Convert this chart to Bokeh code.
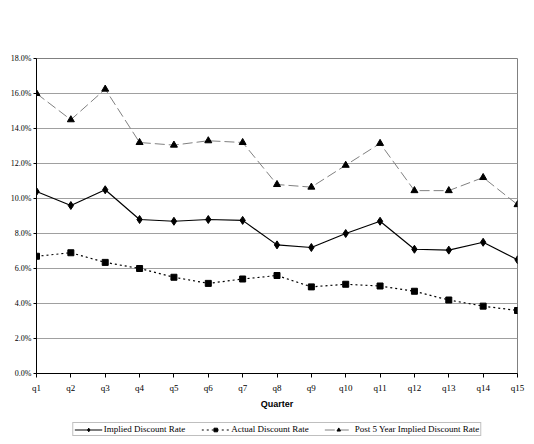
from bokeh.plotting import figure
from bokeh.layouts import column
from bokeh.models import (Range1d, FixedTicker, NumeralTickFormatter, Legend, LegendItem,
                          ColumnDataSource)
from bokeh.embed import file_html
from bokeh.resources import INLINE

quarters = ["q1", "q2", "q3", "q4", "q5", "q6", "q7", "q8", "q9", "q10", "q11", "q12", "q13", "q14", "q15"]
implied = [10.4, 9.6, 10.5, 8.8, 8.7, 8.8, 8.75, 7.35, 7.2, 8.0, 8.7, 7.1, 7.05, 7.5, 6.5]
actual = [6.7, 6.9, 6.35, 6.0, 5.5, 5.15, 5.4, 5.6, 4.95, 5.1, 5.0, 4.7, 4.2, 3.85, 3.6]
post5 = [16.0, 14.5, 16.25, 13.2, 13.05, 13.3, 13.2, 10.8, 10.65, 11.9, 13.15, 10.45, 10.45, 11.2, 9.65]
y_ticks = [0.0, 0.02, 0.04, 0.06, 0.08, 0.10, 0.12, 0.14, 0.16, 0.18]
series_names = ["Implied Discount Rate", "Actual Discount Rate", "Post 5 Year Implied Discount Rate"]

xs = list(range(1, len(quarters) + 1))
src = ColumnDataSource(dict(
    x=xs,
    implied=[v / 100 for v in implied],
    actual=[v / 100 for v in actual],
    post5=[v / 100 for v in post5],
))

SERIF = "Liberation Serif"

p = figure(frame_width=481, frame_height=315, output_backend="svg", toolbar_location=None,
           x_range=Range1d(1, 15), y_range=Range1d(0, 0.18),
           min_border_left=36, min_border_right=17, min_border_top=58, min_border_bottom=0)

p.background_fill_color = "white"
p.border_fill_color = "white"
p.outline_line_color = "#808080"
p.outline_line_width = 1

# axes
p.xaxis.ticker = FixedTicker(ticks=xs)
p.xaxis.major_label_overrides = {i + 1: q for i, q in enumerate(quarters)}
p.xaxis.axis_label = "Quarter"
p.xaxis.axis_label_text_font = "Liberation Sans"
p.xaxis.axis_label_text_font_style = "bold"
p.xaxis.axis_label_text_font_size = "9px"
p.xaxis.axis_label_text_color = "black"
p.xaxis.axis_label_standoff = 3
p.xaxis.major_label_text_font = SERIF
p.xaxis.major_label_text_font_size = "9px"
p.xaxis.major_label_text_color = "black"
p.xaxis.major_label_standoff = 5
p.xaxis.major_tick_in = 0
p.xaxis.major_tick_out = 4
p.xaxis.minor_tick_line_color = None
p.xaxis.axis_line_color = "black"

p.yaxis.ticker = FixedTicker(ticks=y_ticks)
p.yaxis.formatter = NumeralTickFormatter(format="0.0%")
p.yaxis.major_label_text_font = SERIF
p.yaxis.major_label_text_font_size = "8px"
p.yaxis.major_label_text_color = "black"
p.yaxis.major_label_standoff = 2
p.yaxis.major_tick_in = 0
p.yaxis.major_tick_out = 3
p.yaxis.minor_tick_line_color = None
p.yaxis.axis_line_color = "black"

p.xgrid.grid_line_color = None
p.ygrid.grid_line_color = "#a0a0a0"
p.ygrid.grid_line_width = 1

# series styles
styles = [
    dict(line_color="black", line_width=1.2, line_dash="solid", marker="diamond", size=8),
    dict(line_color="black", line_width=1.2, line_dash="2 3", marker="square", size=6),
    dict(line_color="#808080", line_width=1, line_dash="10 4", marker="triangle", size=7),
]
cols = ["implied", "actual", "post5"]
for c, st in zip(cols, styles):
    p.line("x", c, source=src, line_color=st["line_color"], line_width=st["line_width"],
           line_dash=st["line_dash"])
    p.scatter("x", c, source=src, marker=st["marker"], size=st["size"],
              fill_color="black", line_color="black")

# separate strip holding the legend (below the chart); its ranges keep the data out of view
lg = figure(width=534, height=36, output_backend="svg", toolbar_location=None,
            x_range=Range1d(-101, -100), y_range=Range1d(-101, -100), min_border=0)
lg.axis.visible = False
lg.grid.visible = False
lg.outline_line_color = None
lg.background_fill_color = "white"
lg.border_fill_color = "white"

items = []
for name, c, st in zip(series_names, cols, styles):
    r1 = lg.line("x", c, source=src, line_color=st["line_color"], line_width=st["line_width"],
                 line_dash=st["line_dash"])
    r2 = lg.scatter("x", c, source=src, marker=st["marker"], size=st["size"] - 1,
                    fill_color="black", line_color="black")
    items.append(LegendItem(label=name, renderers=[r1, r2]))

legend = Legend(items=items, orientation="horizontal", location="center")
legend.label_text_font = SERIF
legend.label_text_font_size = "9px"
legend.label_text_color = "black"
legend.border_line_color = "#808080"
legend.border_line_width = 1
legend.padding = 1
legend.spacing = 16
legend.margin = 0
legend.glyph_width = 28
legend.glyph_height = 9
legend.label_standoff = 2
legend.label_height = 9
lg.add_layout(legend)

layout = column(p, lg, spacing=0)
open("out.html", "w").write(file_html(layout, INLINE))
